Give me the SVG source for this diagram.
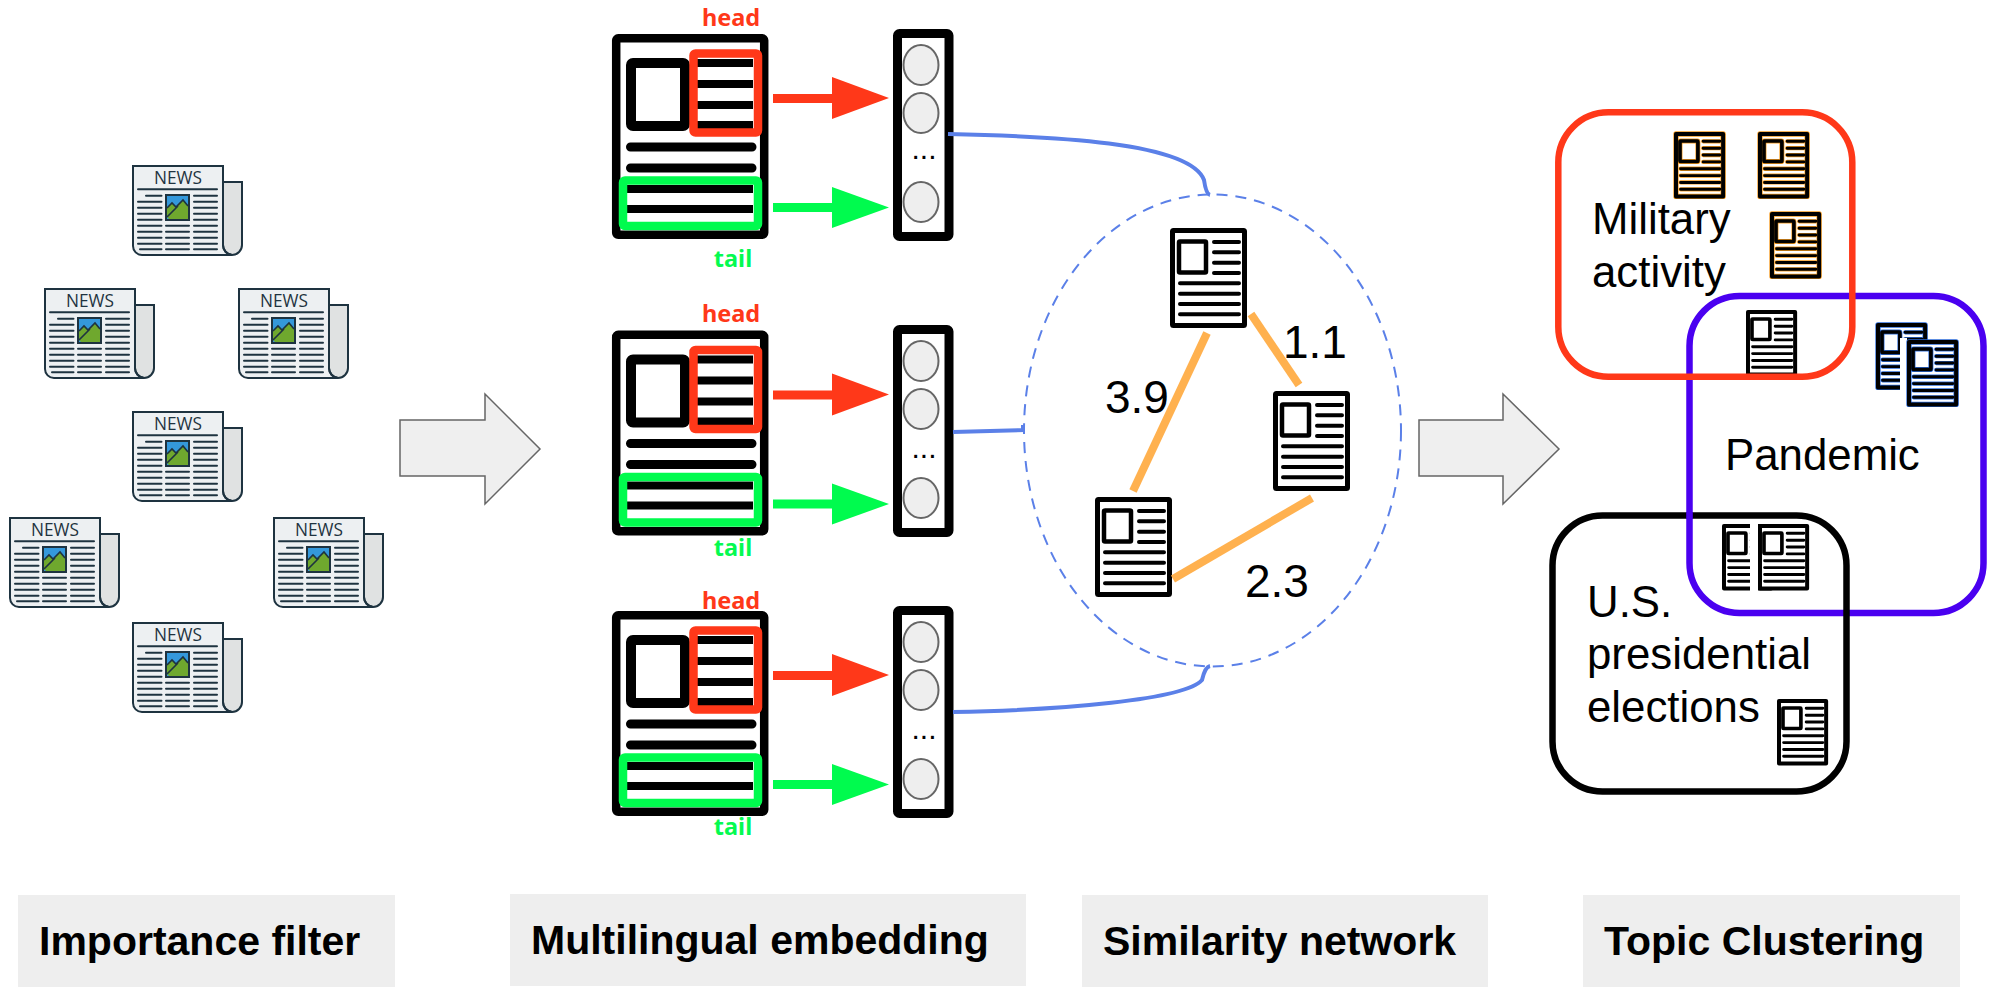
<svg xmlns="http://www.w3.org/2000/svg" width="1996" height="1000" viewBox="0 0 1996 1000">
<style>
text{font-family:"Liberation Sans",Arial,sans-serif;fill:#000}
.lab{font-size:43.8px}
.num{font-size:46px}
.foot{font-size:41px;font-weight:700}
.bar{fill:#eee}
.head{font-family:"Noto Sans",sans-serif;font-weight:700;font-size:23.5px;fill:#ff3819;text-anchor:middle}
.tail{font-family:"Noto Sans",sans-serif;font-weight:700;font-size:23.5px;fill:#05fa50;text-anchor:middle}
.news{font-family:"Open Sans",sans-serif;font-weight:400;font-size:19px;fill:#1e3340;text-anchor:middle}
.dots{font-size:30px;text-anchor:middle}
.nl{stroke:#1e3340;stroke-width:2;stroke-linecap:round;fill:none}
.blue{fill:none;stroke:#5b80e8;stroke-width:4}
.edge{stroke:#ffb14f;stroke-width:8;fill:none}
.big{fill:#efefef;stroke:#666;stroke-width:1.5}
.cl{fill:none;stroke-width:6.5}
</style>
<defs>
<g id="newsBody">
<path d="M91 17H110V80A10 10 0 0 1 90 80Z" fill="#e0e2e2" stroke="#1e3340" stroke-width="2"/>
<path d="M1 1H91V80A10 10 0 0 0 100 90H10A9 9 0 0 1 1 81Z" fill="#edf0f2" stroke="#1e3340" stroke-width="2"/>
<path d="M91 80A10 10 0 0 0 100 90" fill="none" stroke="#1e3340" stroke-width="2"/>
<rect x="34" y="30" width="23" height="25" fill="#3498db" stroke="#1e3340" stroke-width="2"/>
<path d="M35 52V43L40 38L44 42L51 35L56 41V54H37Z" fill="#6fa82e"/>
<path d="M35 52L46 41M35 43L40 38L44 42L51 35L56 41" fill="none" stroke="#1e3340" stroke-width="1.6"/>
<path class="nl" d="M6 24.3H85M14 30.7H29.5M6 36.7H29.5M6 42.7H29.5M6 48.7H29.5M6 54.7H29.5M6 60.7H29.5M6 66.7H29.5M6 72.7H29.5M6 78.7H29.5M8 84.3H29.5M62 30.7H85M62 36.7H85M62 42.7H85M62 48.7H85M62 54.7H85M62 60.7H85M62 66.7H85M62 72.7H85M62 78.7H85M62 84.3H85M34 60.7H57M34 66.7H57M34 72.7H57M34 78.7H57M34 84.3H57"/>
</g>
<g id="bigDoc">
<rect x="616.2" y="38.3" width="148" height="196.5" rx="2" fill="#fff" stroke="#000" stroke-width="8.5" stroke-linejoin="round"/>
<rect x="631" y="63" width="54" height="63" rx="2" fill="#fff" stroke="#000" stroke-width="10" stroke-linejoin="round"/>
<path d="M697 63H753M697 84H753M697 105H753M697 125H753M627 189H753M627 209H753" stroke="#000" stroke-width="8" fill="none"/>
<path d="M630.5 147H752M630.5 168H752" stroke="#000" stroke-width="9" stroke-linecap="round" fill="none"/>
<rect x="693.5" y="53.5" width="64.5" height="79" rx="2" fill="none" stroke="#ff3819" stroke-width="8.5" stroke-linejoin="round"/>
<rect x="623" y="180.500" width="135" height="45.500" rx="2" fill="none" stroke="#00fb4e" stroke-width="8.5" stroke-linejoin="round"/>
<rect x="773" y="94" width="60" height="9" fill="#ff3819"/><path d="M832 77L889 98L832 119Z" fill="#ff3819"/>
<rect x="773" y="203" width="60" height="9" fill="#00fb4e"/><path d="M832 187L889 207.500L832 228Z" fill="#00fb4e"/>
</g>
<g id="vec">
<rect x="897.500" y="33.500" width="51.500" height="203" rx="2" fill="#fff" stroke="#000" stroke-width="9" stroke-linejoin="round"/>
<g fill="#eee" stroke="#666" stroke-width="2"><ellipse cx="921" cy="65" rx="17.500" ry="20"/><ellipse cx="921" cy="113" rx="17.500" ry="20"/><ellipse cx="921" cy="202" rx="17.500" ry="20"/></g>
</g>
<g id="docInk">
<rect x="2.500" y="2.500" width="72" height="95" rx="1" fill="none" stroke="#000" stroke-width="5" stroke-linejoin="round"/>
<rect x="9" y="13.500" width="27" height="31" rx="1" fill="none" stroke="#000" stroke-width="4.500"/>
<path d="M44 14H69M44 24.300H69M44 34.700H69M44 45H69M10 55.300H69M10 65.700H69M10 76H69M10 86.300H69" stroke="#000" stroke-width="4" stroke-linecap="round" fill="none"/>
</g>
<g id="miniInk">
<rect x="3" y="3" width="71" height="94" fill="none" stroke="#000" stroke-width="6" stroke-linejoin="round"/>
<rect x="9" y="13.500" width="27" height="31" rx="1" fill="none" stroke="#000" stroke-width="5.500"/>
<path d="M44 14H69M44 24.300H69M44 34.700H69M44 45H69M10 55.300H69M10 65.700H69M10 76H69M10 86.300H69" stroke="#000" stroke-width="4.500" stroke-linecap="round" fill="none"/>
</g>
<g id="haloInk" fill="none">
<rect x="3" y="3" width="71" height="94" stroke-width="8" stroke-linejoin="round"/>
<rect x="9" y="13.500" width="27" height="31" rx="1" stroke-width="7.500"/>
<path d="M44 14H69M44 24.300H69M44 34.700H69M44 45H69M10 55.300H69M10 65.700H69M10 76H69M10 86.300H69" stroke-width="6.500" stroke-linecap="round"/>
</g>
<g id="doc"><rect x="2" y="2" width="73" height="96" fill="#fff"/><use href="#docInk"/></g>
<g id="mini"><rect x="2" y="2" width="73" height="96" fill="#fff"/><use href="#miniInk"/></g>
<g id="miniO"><rect x="2" y="2" width="73" height="96" fill="#fff"/><use href="#haloInk" stroke="#f59a1e"/><use href="#miniInk"/></g>
<g id="miniB"><rect x="2" y="2" width="73" height="96" fill="#fff"/><use href="#haloInk" stroke="#2a6ad8"/><use href="#miniInk"/></g>
</defs>

<g id="news1" transform="translate(132,165)"><use href="#newsBody"/><text class="news" x="46" y="19" textLength="48" lengthAdjust="spacingAndGlyphs">NEWS</text></g>
<g id="news2" transform="translate(44,288)"><use href="#newsBody"/><text class="news" x="46" y="19" textLength="48" lengthAdjust="spacingAndGlyphs">NEWS</text></g>
<g id="news3" transform="translate(238,288)"><use href="#newsBody"/><text class="news" x="46" y="19" textLength="48" lengthAdjust="spacingAndGlyphs">NEWS</text></g>
<g id="news4" transform="translate(132,411)"><use href="#newsBody"/><text class="news" x="46" y="19" textLength="48" lengthAdjust="spacingAndGlyphs">NEWS</text></g>
<g id="news5" transform="translate(9,517)"><use href="#newsBody"/><text class="news" x="46" y="19" textLength="48" lengthAdjust="spacingAndGlyphs">NEWS</text></g>
<g id="news6" transform="translate(273,517)"><use href="#newsBody"/><text class="news" x="46" y="19" textLength="48" lengthAdjust="spacingAndGlyphs">NEWS</text></g>
<g id="news7" transform="translate(132,622)"><use href="#newsBody"/><text class="news" x="46" y="19" textLength="48" lengthAdjust="spacingAndGlyphs">NEWS</text></g>

<g id="arrow-left"><path class="big" d="M400 420H485V394L540 449L485 504V476H400Z"/></g>
<g id="arrow-right"><path class="big" d="M1419 420H1503V394L1559 449L1503 504V476H1419Z"/></g>

<g id="article1"><use href="#bigDoc"/><text class="head" x="731" y="26">head</text><text class="tail" x="733" y="267">tail</text></g>
<g id="vector1"><use href="#vec"/><text class="dots" x="924" y="159">...</text></g>
<g id="article2"><use href="#bigDoc" transform="translate(0,296.500)"/><text class="head" x="731" y="321.500">head</text><text class="tail" x="733" y="555.500">tail</text></g>
<g id="vector2"><use href="#vec" transform="translate(0,296)"/><text class="dots" x="924" y="458">...</text></g>
<g id="article3"><use href="#bigDoc" transform="translate(0,577)"/><text class="head" x="731" y="609">head</text><text class="tail" x="733" y="835">tail</text></g>
<g id="vector3"><use href="#vec" transform="translate(0,577)"/><text class="dots" x="924" y="739">...</text></g>

<g id="similarity-network">
<ellipse cx="1212.500" cy="430.500" rx="188.500" ry="236" fill="none" stroke="#5b80e8" stroke-width="2" stroke-dasharray="11 8"/>
<use href="#doc" transform="translate(1170,228)"/>
<use href="#doc" transform="translate(1273,391)"/>
<use href="#doc" transform="translate(1095,497)"/>
<text class="num" x="1283" y="358">1.1</text>
<text class="num" x="1105" y="413">3.9</text>
<text class="num" x="1245" y="597">2.3</text>
</g>

<g id="cluster-pandemic">
<rect class="cl" x="1689.500" y="296" width="294" height="317" rx="50" stroke="#4a00f0"/>
<use href="#mini" transform="translate(1746,310) scale(.664)"/>
<use href="#miniB" transform="translate(1876,323) scale(.664)"/>
<rect x="1900" y="338" width="7" height="55" fill="#fff"/>
<use href="#miniB" transform="translate(1907,340) scale(.664)"/>
<text class="lab" x="1725" y="470">Pandemic</text>
</g>
<g id="cluster-military">
<rect class="cl" x="1558.300" y="112.300" width="294" height="264.500" rx="50" stroke="#ff3819"/>
<use href="#miniO" transform="translate(1674,132) scale(.664)"/>
<use href="#miniO" transform="translate(1758,132) scale(.664)"/>
<use href="#miniO" transform="translate(1770,212) scale(.664)"/>
<text class="lab" x="1592" y="234">Military</text>
<text class="lab" x="1592" y="287">activity</text>
</g>
<g id="cluster-elections">
<rect class="cl" x="1552.500" y="515.500" width="294" height="276" rx="50" stroke="#000"/>
<rect x="1686.200" y="512" width="6.600" height="7" fill="#4a00f0"/>
<use href="#mini" transform="translate(1722,524) scale(.664)"/>
<rect x="1750" y="522" width="8" height="72" fill="#fff"/>
<use href="#mini" transform="translate(1758,524) scale(.664)"/>
<use href="#mini" transform="translate(1777,699) scale(.664)"/>
<text class="lab" x="1587" y="617">U.S.</text>
<text class="lab" x="1587" y="669">presidential</text>
<text class="lab" x="1587" y="722">elections</text>
</g>

<g id="connectors">
<path class="blue" d="M948 134C1050 136 1190 142 1204 180Q1206 194 1210 195"/>
<path class="blue" d="M953 432L1023 430V425"/>
<path class="blue" d="M953 712C1060 710 1185 700 1202 680Q1205 667 1210 666"/>
<path class="edge" d="M1207 333L1133 491"/>
<path class="edge" d="M1251 314L1299 385"/>
<path class="edge" d="M1173 579L1312 498"/>
</g>

<g id="label-importance"><rect class="bar" x="18" y="895" width="377" height="92"/><text class="foot" x="39" y="955">Importance filter</text></g>
<g id="label-embedding"><rect class="bar" x="510" y="894" width="516" height="92"/><text class="foot" x="531" y="954">Multilingual embedding</text></g>
<g id="label-similarity"><rect class="bar" x="1082" y="895" width="406" height="92"/><text class="foot" x="1103" y="955">Similarity network</text></g>
<g id="label-topic"><rect class="bar" x="1583" y="895" width="377" height="92"/><text class="foot" x="1604" y="955">Topic Clustering</text></g>
</svg>
